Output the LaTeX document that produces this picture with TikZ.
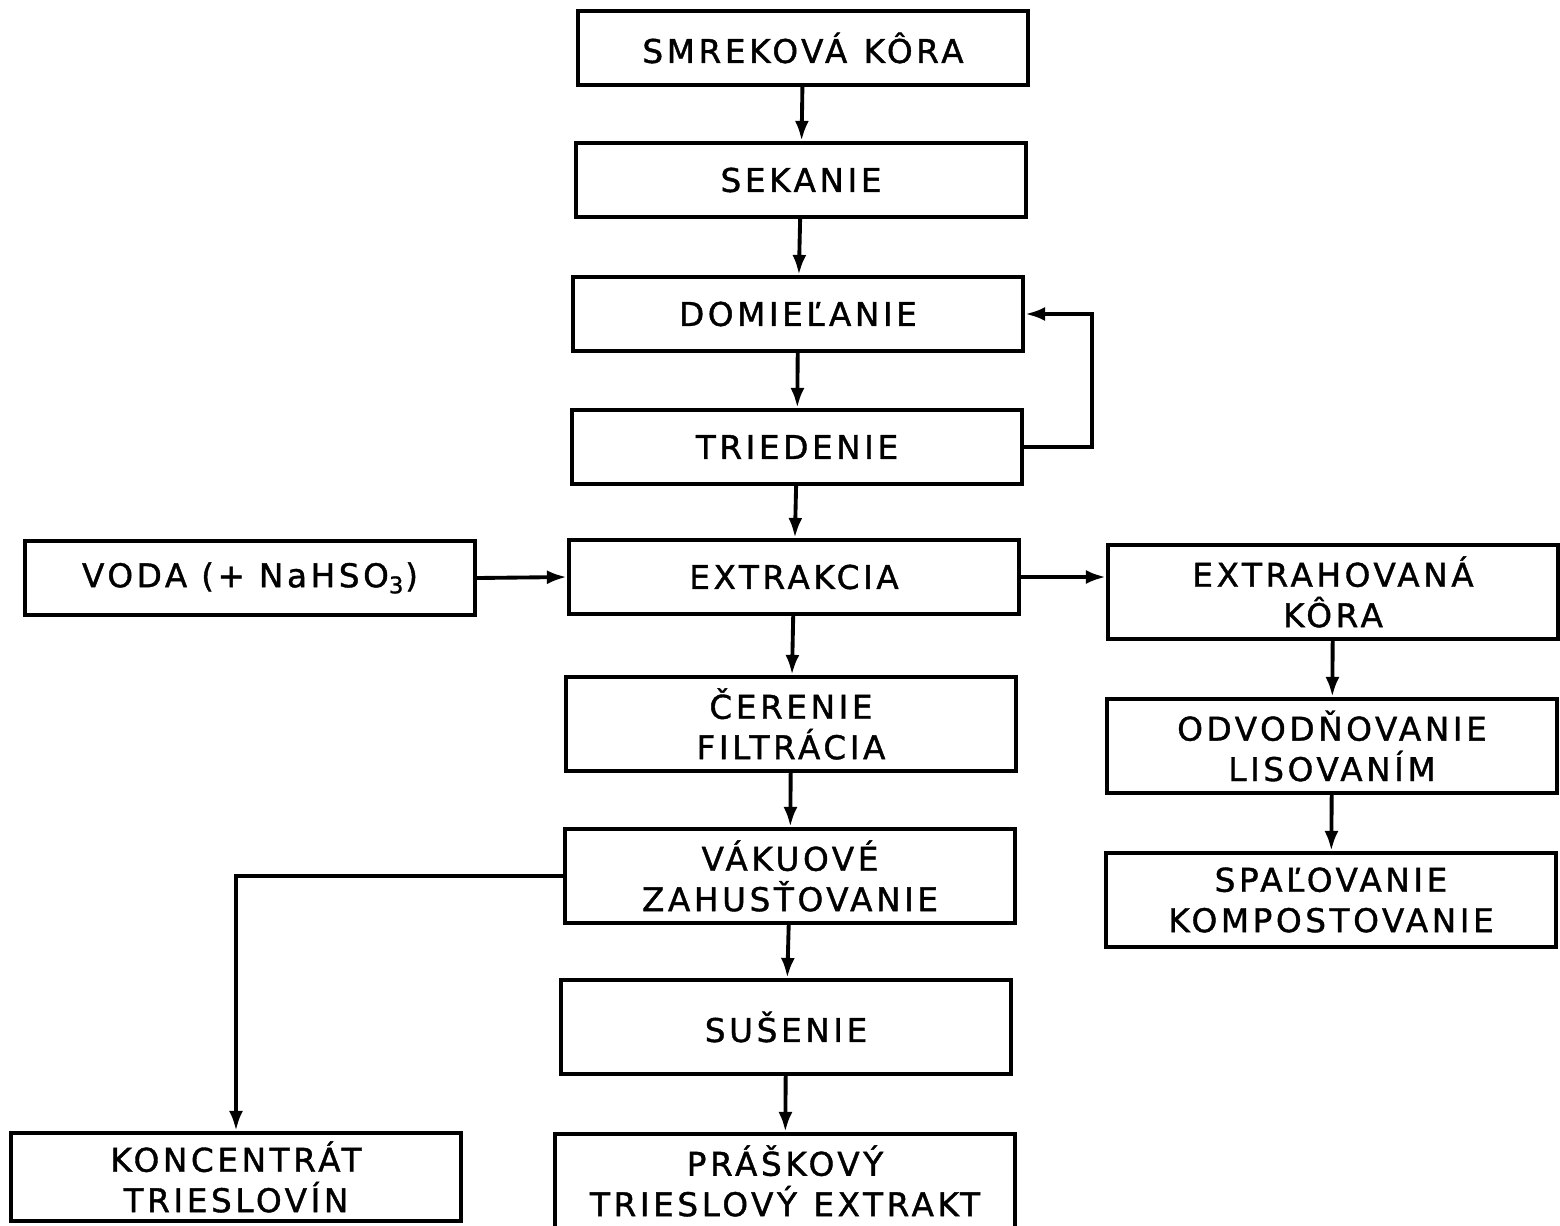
\documentclass[tikz,border=0pt]{standalone}
\usepackage{fontspec}
\setmainfont{DejaVu Sans}[LetterSpace=11, FakeBold=1.2]
\usetikzlibrary{arrows.meta}

\tikzset{
  box/.style = {draw, line width=1.2pt, minimum width=45mm, minimum height=7.4mm,
    align=center, inner sep=1pt, font=\fontsize{9.3}{11.5}\selectfont},
  tall/.style = {minimum height=9.4mm},
  arr/.style = {line width=1.1pt, -{Latex[length=2mm, width=1.4mm]}}
}

\begin{document}
\begin{tikzpicture}[x=0.1mm, y=-0.1mm]
\useasboundingbox (0,0) rectangle (1560,1225);

% main line
\node[box] (smrek) at (803,48) {SMREKOVÁ\enspace KÔRA};
\node[box] (sek) at (801,180) {SEKANIE};
\node[box] (dom) at (798,314) {DOMIEĽANIE};
\node[box] (tried) at (797,447) {TRIEDENIE};
\node[box] (extr) at (794,577) {EXTRAKCIA};
\node[box, tall] (cer) at (791,724) {ČERENIE\\FILTRÁCIA};
\node[box, tall] (vak) at (790,876) {VÁKUOVÉ\\ZAHUSŤOVANIE};
\node[box, tall] (sus) at (786,1027) {SUŠENIE};
\node[box, tall, minimum width=46mm] (prask) at (785,1181) {PRÁŠKOVÝ\\TRIESLOVÝ\enspace EXTRAKT};

% side boxes
\node[box] (voda) at (250,578) {VODA (+ NaHSO\textsubscript{3})};
\node[box, tall] (extrko) at (1333,592) {EXTRAHOVANÁ\\KÔRA};
\node[box, tall] (odv) at (1332,746) {ODVODŇOVANIE\\LISOVANÍM};
\node[box, tall] (spal) at (1331,900) {SPAĽOVANIE\\KOMPOSTOVANIE};
\node[box, minimum height=8.8mm] (konc) at (236,1177) {KONCENTRÁT\\TRIESLOVÍN};

\foreach \a/\b in {smrek/sek, sek/dom, dom/tried, tried/extr, extr/cer,
                   cer/vak, vak/sus, sus/prask, extrko/odv, odv/spal}
  \draw[arr] (\a) -- (\b);

\draw[arr] (tried.east) -- ++(68,0) |- (dom.east);
\draw[arr] (voda.east) -- (extr.west);
\draw[arr] (extr.east) -- (extr.east -| extrko.west);
\draw[arr] (vak) -| (konc);
\end{tikzpicture}
\end{document}
